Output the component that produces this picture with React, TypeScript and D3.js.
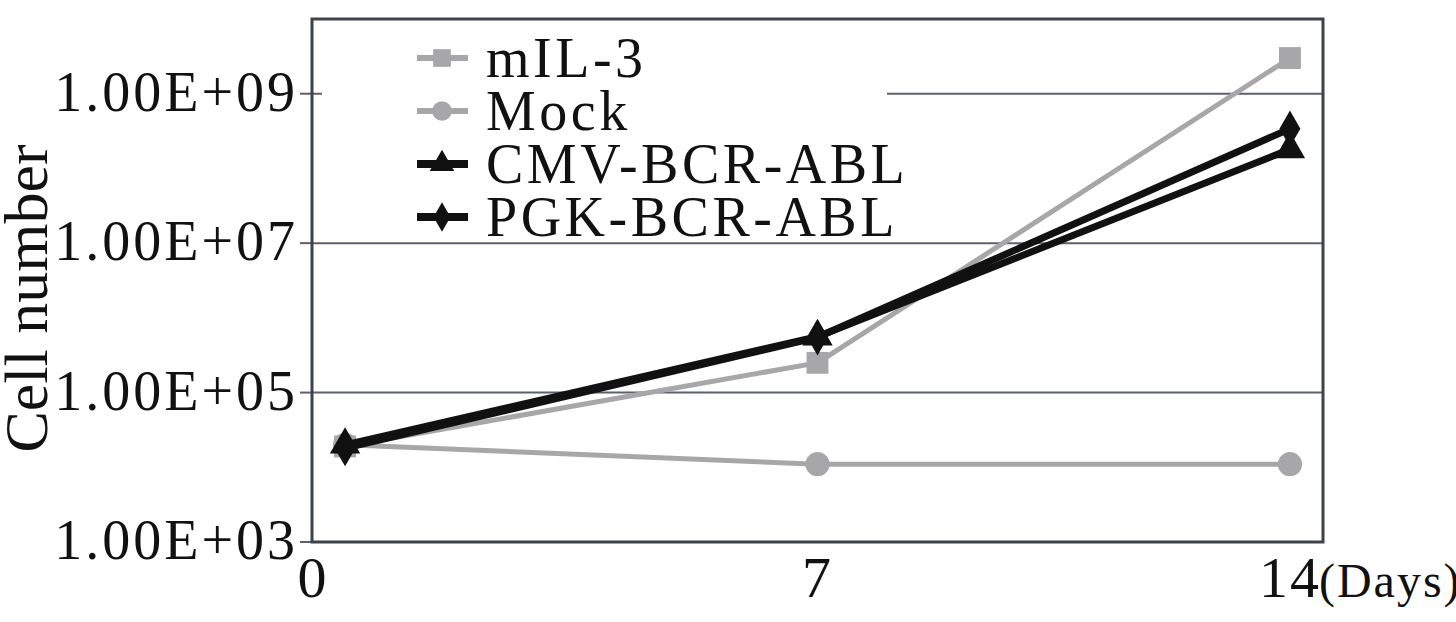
import React, { useRef, useEffect } from 'react';
import * as d3 from 'd3';

// cell counts (log scale)
const days = [0, 7, 14];
const seriesNames = ['mIL-3', 'Mock', 'CMV-BCR-ABL', 'PGK-BCR-ABL'];
const mil3 = [1.9e4, 2.5e5, 3.0e9];
const mock = [2.0e4, 1.1e4, 1.1e4];
const cmv = [2.0e4, 5.6e5, 1.8e8];
const pgk = [1.8e4, 5.5e5, 3.4e8];
const yTicks = [1e3, 1e5, 1e7, 1e9];
const xTickLabels = ['0', '7', '14'];

const GRAY = '#a7a7aa';
const BLACK = '#111111';
const FONT = '"Liberation Serif", "Times New Roman", serif';

function CellChart() {
  const ref = useRef<SVGSVGElement>(null);

  useEffect(() => {
    const svg = d3.select(ref.current);
    svg.selectAll('*').remove();

    const width = 1456;
    const height = 622;
    const margin = { top: 19, right: 133, bottom: 80, left: 312 };
    const innerW = width - margin.left - margin.right;
    const innerH = height - margin.top - margin.bottom;

    const x = d3.scalePoint<number>().domain(days).range([0, innerW]).padding(0.07);
    const y = d3.scaleLog().domain([1e3, 1e10]).range([innerH, 0]);

    const fmt = (v: number) => {
      const e = Math.round(Math.log10(v));
      return `1.00E+${String(e).padStart(2, '0')}`;
    };

    const g = svg.append('g').attr('transform', `translate(${margin.left},${margin.top})`);

    // gridlines
    g.selectAll('.grid')
      .data(yTicks.slice(1))
      .enter().append('line')
      .attr('x1', 0).attr('x2', innerW)
      .attr('y1', (d) => y(d)).attr('y2', (d) => y(d))
      .attr('stroke', '#5b6169').attr('stroke-width', 2);

    // tick marks + labels
    g.selectAll('.ytick')
      .data(yTicks)
      .enter().append('line')
      .attr('x1', -12).attr('x2', 0)
      .attr('y1', (d) => y(d)).attr('y2', (d) => y(d))
      .attr('stroke', '#5b6169').attr('stroke-width', 2);

    g.selectAll('.ylabel')
      .data(yTicks)
      .enter().append('text')
      .attr('x', -14)
      .attr('y', (d) => y(d) + 17)
      .attr('text-anchor', 'end')
      .attr('font-family', FONT)
      .attr('font-size', 56)
      .attr('letter-spacing', 3)
      .attr('fill', '#111')
      .text(fmt);

    // legend backing (hides the 1e9 gridline)
    const legend = g.append('g').attr('transform', 'translate(130,39)');
    legend.append('rect')
      .attr('x', -120).attr('y', -32)
      .attr('width', 565).attr('height', 212)
      .attr('fill', '#fff');

    // frame
    g.append('rect')
      .attr('x', 0).attr('y', 0)
      .attr('width', innerW).attr('height', innerH)
      .attr('fill', 'none')
      .attr('stroke', '#3c434b').attr('stroke-width', 3);

    const series = [
      { name: seriesNames[1], values: mock, color: GRAY, width: 5, symbol: d3.symbolCircle, size: 460 },
      { name: seriesNames[0], values: mil3, color: GRAY, width: 5, symbol: d3.symbolSquare, size: 480 },
      { name: seriesNames[2], values: cmv, color: BLACK, width: 7, symbol: d3.symbolTriangle, size: 400 },
      { name: seriesNames[3], values: pgk, color: BLACK, width: 7, symbol: d3.symbolDiamond, size: 380 },
    ];

    const line = d3.line<number>()
      .x((d, i) => x(days[i]) as number)
      .y((d) => y(d));

    series.forEach((s) => {
      g.append('path')
        .attr('d', line(s.values))
        .attr('fill', 'none')
        .attr('stroke', s.color)
        .attr('stroke-width', s.width)
        .attr('stroke-linejoin', 'round');
      g.selectAll(null)
        .data(s.values)
        .enter().append('path')
        .attr('transform', (d, i) => `translate(${x(days[i])},${y(d)})`)
        .attr('d', d3.symbol().type(s.symbol).size(s.size)())
        .attr('fill', s.color);
    });

    // legend entries in original order
    const legendOrder = [series[1], series[0], series[2], series[3]];
    legendOrder.forEach((s, i) => {
      const row = legend.append('g').attr('transform', `translate(0,${i * 53})`);
      row.append('line')
        .attr('x1', -25).attr('x2', 26)
        .attr('stroke', s.color).attr('stroke-width', s.width + 1);
      row.append('path')
        .attr('d', d3.symbol().type(s.symbol).size(s.size * 0.65)())
        .attr('fill', s.color);
      row.append('text')
        .attr('x', 44).attr('y', 19)
        .attr('font-family', FONT)
        .attr('font-size', 56)
        .attr('letter-spacing', 3.5)
        .attr('fill', '#111')
        .text(s.name);
    });

    // x labels: "0" sits at the origin, 7 and 14 under their points
    const xl = g.append('g').attr('font-family', FONT).attr('font-size', 58).attr('fill', '#111');
    xl.append('text')
      .attr('x', 0).attr('y', innerH + 55)
      .attr('text-anchor', 'middle')
      .text(xTickLabels[0]);
    xl.selectAll('.xt')
      .data(days.slice(1))
      .enter().append('text')
      .attr('x', (d) => x(d) as number)
      .attr('y', innerH + 55)
      .attr('text-anchor', 'middle')
      .attr('letter-spacing', 2)
      .text((d, i) => xTickLabels[i + 1]);
    xl.append('text')
      .attr('x', (x(14) as number) + 29)
      .attr('y', innerH + 55)
      .attr('font-size', 48)
      .attr('letter-spacing', 2)
      .text('(Days)');

    // y title
    svg.append('text')
      .attr('transform', `translate(47,${margin.top + innerH / 2 + 18}) rotate(-90)`)
      .attr('text-anchor', 'middle')
      .attr('font-family', FONT)
      .attr('font-size', 62)
      .attr('fill', '#111')
      .text('Cell number');
  }, []);

  return (
    <svg
      ref={ref}
      width={1456}
      height={622}
      style={{ position: 'absolute', left: 0, top: 0, background: '#fff' }}
    />
  );
}

export default function App() {
  return <CellChart />;
}
